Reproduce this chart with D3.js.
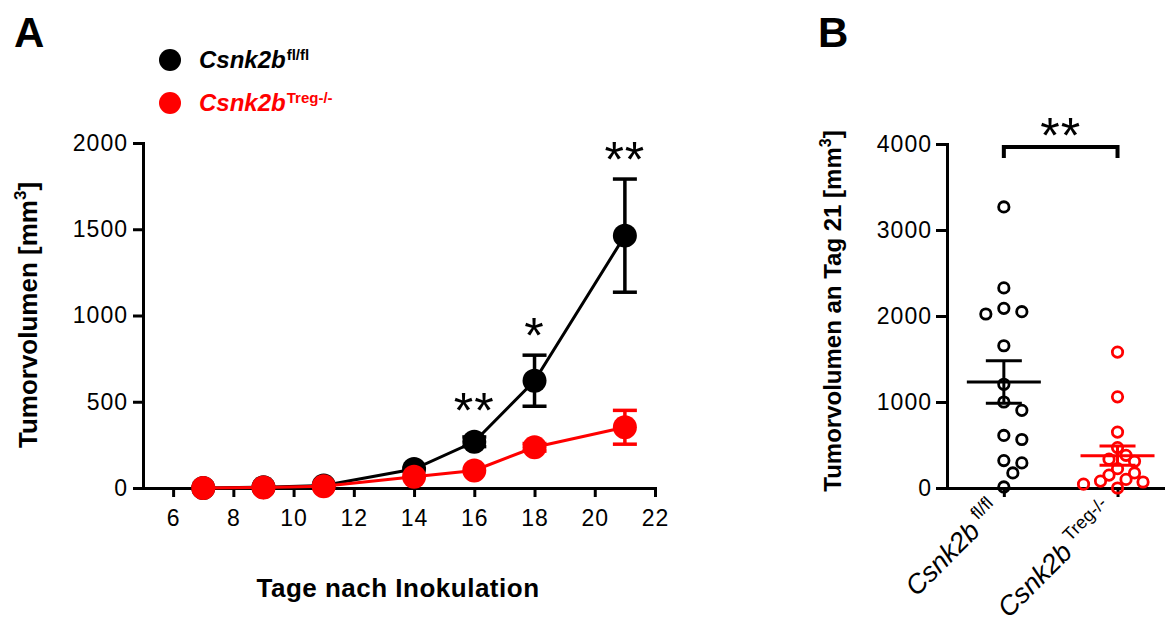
<!DOCTYPE html>
<html>
<head>
<meta charset="utf-8">
<script src="https://cdn.jsdelivr.net/npm/d3@7"></script>
<style>
body { margin: 0; background: #fff; }
text { font-family: "Liberation Sans", Arial, sans-serif; }
</style>
</head>
<body>
<div id="chart"></div>
<script>
// panel A: tumour growth curves
var days = [7, 9, 11, 14, 16, 18, 21];
var flMean = [0, 5, 15, 110, 268, 622, 1463];
var flSem = [0, 2, 4, 18, 28, 148, 328];
var tregMean = [0, 3, 10, 65, 102, 236, 352];
var tregSem = [0, 1, 3, 10, 14, 22, 98];
var sigA = [{day: 16, label: "**"}, {day: 18, label: "*"}, {day: 21, label: "**"}];
var xTicksA = [6, 8, 10, 12, 14, 16, 18, 20, 22];
var yTicksA = [0, 500, 1000, 1500, 2000];

// panel B: single animals at day 21
var groupsB = ["fl/fl", "Treg-/-"];
var flDay21 = [3268, 2327, 2089, 2050, 2023, 1654, 1206, 1000, 903, 611, 564, 319, 292, 175, 12];
var tregDay21 = [1580, 1060, 650, 470, 380, 335, 310, 225, 175, 150, 100, 80, 70, 45, 0];
var yTicksB = [0, 1000, 2000, 3000, 4000];
var sigB = "**";

var width = 1167, height = 623;
var red = "#ff0000";

var svg = d3.select("#chart").append("svg")
   .attr("width", width).attr("height", height);

// ---------- panel A ----------
var xA = d3.scaleLinear().domain([5, 22]).range([143, 655]);
var yA = d3.scaleLinear().domain([0, 2000]).range([488, 143]);

function styleAxis(g) {
   g.attr("font-family", "Liberation Sans, Arial, sans-serif").attr("font-size", 23);
   g.selectAll("path.domain").attr("stroke-width", 3).attr("stroke-linecap", "square");
   g.selectAll(".tick line").attr("stroke-width", 3);
   g.selectAll(".tick text").attr("fill", "#000").style("letter-spacing", "1px");
}

svg.append("g").attr("transform", "translate(0,488)")
   .call(d3.axisBottom(xA).tickValues(xTicksA).tickFormat(d3.format("d"))
      .tickSize(9).tickPadding(13).tickSizeOuter(0))
   .call(styleAxis);
svg.append("g").attr("transform", "translate(143,0)")
   .call(d3.axisLeft(yA).tickValues(yTicksA).tickFormat(d3.format("d"))
      .tickSize(10).tickPadding(5).tickSizeOuter(0))
   .call(styleAxis);

// axis titles
svg.append("text")
   .attr("x", 398).attr("y", 597)
   .attr("text-anchor", "middle")
   .attr("font-size", 26).attr("font-weight", "bold")
   .style("letter-spacing", "0.5px")
   .text("Tage nach Inokulation");

var yLabA = svg.append("text")
   .attr("transform", "translate(37,315) rotate(-90)")
   .attr("text-anchor", "middle")
   .attr("font-size", 26).attr("font-weight", "bold");
yLabA.append("tspan").text("Tumorvolumen [mm");
yLabA.append("tspan").attr("font-size", 17).attr("dy", -11).text("3");
yLabA.append("tspan").attr("dy", 11).text("]");

function seriesData(means, sems) {
   return days.map(function(d, i) { return {day: d, v: means[i], s: sems[i]}; });
}
var seriesA = [
   {color: "#000", data: seriesData(flMean, flSem)},
   {color: red, data: seriesData(tregMean, tregSem)}
];

var line = d3.line().x(function(d) { return xA(d.day); }).y(function(d) { return yA(d.v); });

seriesA.forEach(function(s) {
   var g = svg.append("g");
   g.append("path").datum(s.data)
      .attr("d", line).attr("fill", "none")
      .attr("stroke", s.color).attr("stroke-width", 3);
   var eb = g.selectAll(".err").data(s.data.filter(function(d) { return d.s > 20; }))
      .enter().append("g").attr("stroke", s.color).attr("stroke-width", 3.5);
   eb.append("line")
      .attr("x1", function(d) { return xA(d.day); }).attr("x2", function(d) { return xA(d.day); })
      .attr("y1", function(d) { return yA(d.v - d.s); }).attr("y2", function(d) { return yA(d.v + d.s); });
   [1, -1].forEach(function(sign) {
      eb.append("line")
         .attr("x1", function(d) { return xA(d.day) - 12; }).attr("x2", function(d) { return xA(d.day) + 12; })
         .attr("y1", function(d) { return yA(d.v + sign * d.s); })
         .attr("y2", function(d) { return yA(d.v + sign * d.s); });
   });
   g.selectAll("circle").data(s.data).enter().append("circle")
      .attr("cx", function(d) { return xA(d.day); })
      .attr("cy", function(d) { return yA(d.v); })
      .attr("r", 12).attr("fill", s.color);
});

// significance stars above the upper error / point
sigA.forEach(function(sg) {
   var i = days.indexOf(sg.day);
   var top = Math.min(yA(flMean[i] + flSem[i]), yA(flMean[i]) - 12);
   svg.append("text")
      .attr("x", xA(sg.day)).attr("y", top - 2)
      .attr("text-anchor", "middle")
      .attr("font-size", 50)
      .style("letter-spacing", "1px")
      .text(sg.label);
});

// legend
var legend = [
   {color: "#000", sup: "fl/fl", y: 60},
   {color: red, sup: "Treg-/-", y: 103}
];
legend.forEach(function(l) {
   svg.append("circle").attr("cx", 170).attr("cy", l.y).attr("r", 11).attr("fill", l.color);
   var t = svg.append("text").attr("x", 199).attr("y", l.y + 8)
      .attr("fill", l.color).attr("font-size", 24).attr("font-weight", "bold");
   t.append("tspan").attr("font-style", "italic").text("Csnk2b");
   t.append("tspan").attr("font-size", 15).attr("dy", -8).attr("dx", 1).text(l.sup);
});

// ---------- panel B ----------
var xB = d3.scaleLinear().domain([-0.5, 1.4]).range([947, 1163]);
var yB = d3.scaleLinear().domain([0, 4000]).range([488, 144]);

svg.append("g").attr("transform", "translate(0,488)")
   .call(d3.axisBottom(xB).tickValues([0, 1]).tickFormat("").tickSize(9).tickSizeOuter(0))
   .call(styleAxis);
svg.append("g").attr("transform", "translate(947,0)")
   .call(d3.axisLeft(yB).tickValues(yTicksB).tickFormat(d3.format("d"))
      .tickSize(11).tickPadding(4).tickSizeOuter(0))
   .call(styleAxis);

var yLabB = svg.append("text")
   .attr("transform", "translate(841,311) rotate(-90)")
   .attr("text-anchor", "middle")
   .attr("font-size", 24).attr("font-weight", "bold");
yLabB.append("tspan").text("Tumorvolumen an Tag 21 [mm");
yLabB.append("tspan").attr("font-size", 16).attr("dy", -10).text("3");
yLabB.append("tspan").attr("dy", 10).text("]");

// simple dodge so the open circles do not sit on top of each other
function dodge(vals, cx, step, minDist) {
   var placed = [];
   vals.forEach(function(v) {
      var y = yB(v);
      for (var k = 0; k < 30; k++) {
         var x = cx + (k % 2 ? 1 : -1) * Math.ceil(k / 2) * step;
         var free = placed.every(function(p) { return Math.hypot(p.x - x, p.y - y) >= minDist; });
         if (free) { placed.push({x: x, y: y, v: v}); break; }
      }
   });
   return placed;
}

var seriesB = [
   {color: "#000", vals: flDay21, step: 9, minDist: 12.5},
   {color: red, vals: tregDay21, step: 8.5, minDist: 10}
];
seriesB.forEach(function(s, gi) {
   var cx = xB(gi);
   var pts = dodge(s.vals, cx, s.step, s.minDist);
   var g = svg.append("g");
   g.selectAll("circle").data(pts).enter().append("circle")
      .attr("cx", function(d) { return d.x; }).attr("cy", function(d) { return d.y; })
      .attr("r", 5.2).attr("fill", "none")
      .attr("stroke", s.color).attr("stroke-width", 2.8);
   var m = d3.mean(s.vals);
   var sem = d3.deviation(s.vals) / Math.sqrt(s.vals.length);
   var lg = g.append("g").attr("stroke", s.color).attr("stroke-width", 3);
   lg.append("line").attr("x1", cx - 37).attr("x2", cx + 37).attr("y1", yB(m)).attr("y2", yB(m));
   lg.append("line").attr("x1", cx).attr("x2", cx).attr("y1", yB(m - sem)).attr("y2", yB(m + sem));
   [1, -1].forEach(function(sign) {
      lg.append("line").attr("x1", cx - 18).attr("x2", cx + 18)
         .attr("y1", yB(m + sign * sem)).attr("y2", yB(m + sign * sem));
   });

   // rotated category label
   var t = svg.append("text")
      .attr("transform", "translate(" + (cx - 2) + ",512) rotate(-45)")
      .attr("text-anchor", "end").attr("font-size", 27);
   t.append("tspan").attr("font-style", "italic").text("Csnk2b");
   t.append("tspan").attr("font-size", 18).attr("dy", -11).attr("dx", 6).text(groupsB[gi]);
});

// significance bracket
var bx0 = xB(0), bx1 = xB(1), by = yB(4000) + 3;
svg.append("path")
   .attr("d", "M" + bx0 + "," + (by + 11) + "V" + by + "H" + bx1 + "V" + (by + 11))
   .attr("fill", "none").attr("stroke", "#000").attr("stroke-width", 4);
svg.append("text")
   .attr("x", (bx0 + bx1) / 2).attr("y", by + 6)
   .attr("text-anchor", "middle")
   .attr("font-size", 50)
   .style("letter-spacing", "1px")
   .text(sigB);

// panel letters
svg.append("text").attr("x", 14).attr("y", 47).attr("font-size", 42).attr("font-weight", "bold").text("A");
svg.append("text").attr("x", 818).attr("y", 47).attr("font-size", 42).attr("font-weight", "bold").text("B");
</script>
</body>
</html>
